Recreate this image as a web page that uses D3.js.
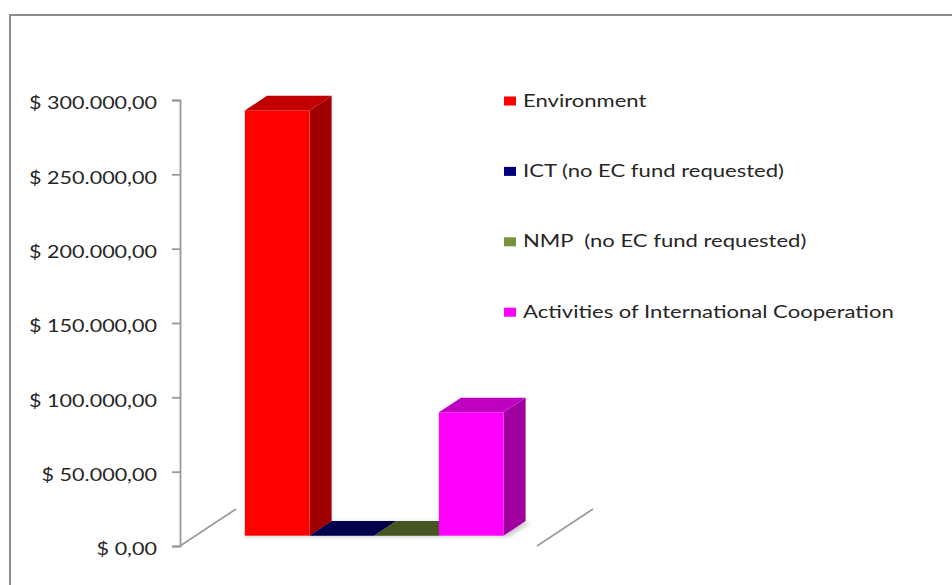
<!DOCTYPE html>
<html>
<head>
<meta charset="utf-8">
<script src="https://cdn.jsdelivr.net/npm/d3@7/dist/d3.min.js"></script>
<style>
  html, body { margin: 0; padding: 0; background: #fff; }
  text { white-space: pre; }
</style>
</head>
<body>
<svg id="chart" width="952" height="585"></svg>
<script>
// Funding per research theme (single category, one bar per theme)
const series = [
  "Environment",
  "ICT (no EC fund requested)",
  "NMP  (no EC fund requested)",
  "Activities of International Cooperation"
];
const values = [286000, 0, 0, 83000];
const colors = ["#FF0000", "#000080", "#77933C", "#FF00FF"];
const yTicks = [0, 50000, 100000, 150000, 200000, 250000, 300000];
const tickLabels = ["$ 0,00", "$ 50.000,00", "$ 100.000,00", "$ 150.000,00",
                    "$ 200.000,00", "$ 250.000,00", "$ 300.000,00"];

const FONT = "Lato, 'Open Sans', 'Liberation Sans', sans-serif";
const TEXT_COLOR = "#262626";
const AXIS_COLOR = "#9a9a9a";

const svg = d3.select("#chart");

// outer chart frame
svg.append("rect")
  .attr("x", 10).attr("y", 15)
  .attr("width", 980).attr("height", 620)
  .attr("fill", "#fff")
  .attr("stroke", "#8c8c8c")
  .attr("stroke-width", 2);

// 3D geometry: front plane of the floor plus a depth vector
const front = { x0: 180, x1: 537, y0: 546, y1: 100 };
const depth = { dx: 56, dy: -37 };
const f1 = 0.28, f2 = 0.675;   // front and back face of bars along the depth

const x = d3.scaleBand().domain(series)
  .range([front.x0, front.x1])
  .paddingInner(0).paddingOuter(0.76);
const y = d3.scaleLinear().domain([0, 300000]).range([front.y0, front.y1]);
const color = d3.scaleOrdinal().domain(series).range(colors);

// floor edges
const floor = svg.append("g")
  .attr("fill", "none").attr("stroke", AXIS_COLOR).attr("stroke-width", 1.6);
[front.x0, front.x1].forEach(px => {
  floor.append("line")
    .attr("x1", px).attr("y1", y(0))
    .attr("x2", px + depth.dx).attr("y2", y(0) + depth.dy);
});

// value axis
const axis = d3.axisLeft(y)
  .tickValues(yTicks)
  .tickSize(8).tickSizeOuter(8)
  .tickPadding(15)
  .tickFormat((d, i) => tickLabels[yTicks.indexOf(d)]);

const gAxis = svg.append("g")
  .attr("transform", `translate(${front.x0},0)`)
  .call(axis);
gAxis.select(".domain").attr("stroke", AXIS_COLOR).attr("stroke-width", 1.8);
gAxis.selectAll(".tick line").attr("stroke", AXIS_COLOR).attr("stroke-width", 1.8);

const axisText = gAxis.selectAll(".tick text")
  .attr("font-family", FONT).attr("font-size", 18)
  .attr("fill", TEXT_COLOR)
  .attr("dy", null).attr("x", 0)
  .attr("text-anchor", "end");
// horizontal stretch so the widest label spans 128px
let axisMax = 0;
axisText.each(function () { axisMax = Math.max(axisMax, this.getComputedTextLength()); });
const axisSx = 128 / axisMax;
axisText.attr("transform", `translate(-23,8.7) scale(${axisSx},1)`);

// bars
const ddx = (f2 - f1) * depth.dx, ddy = (f2 - f1) * depth.dy;
const barData = series.map((s, i) => ({ s, v: values[i] }));

// soft floor shadow under the row of bars
const defs = svg.append("defs");
defs.append("filter").attr("id", "soft")
  .attr("x", "-20%").attr("y", "-50%").attr("width", "140%").attr("height", "200%")
  .append("feGaussianBlur").attr("stdDeviation", 2);
{
  const l = x(series[0]) + f1 * depth.dx - 3;
  const r = x(series[series.length - 1]) + x.bandwidth() + f1 * depth.dx + 5;
  const b = y(0) + f1 * depth.dy + 1;
  svg.append("polygon")
    .attr("points", [[l, b], [l + ddx, b + ddy], [r + ddx, b + ddy], [r, b]].map(p => p.join(",")).join(" "))
    .attr("fill", "#9a9a9a").attr("opacity", 0.55)
    .attr("filter", "url(#soft)");
}

const bars = svg.append("g").selectAll("g").data(barData).join("g");
bars.each(function (d) {
  const g = d3.select(this);
  const w = x.bandwidth();
  const X0 = x(d.s) + f1 * depth.dx;
  const Yb = y(0) + f1 * depth.dy;
  const Yt = y(d.v) + f1 * depth.dy;
  const base = d3.color(color(d.s));
  const pts = a => a.map(p => p.join(",")).join(" ");
  // right side face
  g.append("polygon")
    .attr("points", pts([[X0 + w, Yb], [X0 + w + ddx, Yb + ddy], [X0 + w + ddx, Yt + ddy], [X0 + w, Yt]]))
    .attr("fill", base.darker(1.3));
  // front face
  g.append("rect")
    .attr("x", X0).attr("y", Yt)
    .attr("width", w).attr("height", Yb - Yt)
    .attr("fill", base);
  // top face
  g.append("polygon")
    .attr("points", pts([[X0, Yt], [X0 + ddx, Yt + ddy], [X0 + w + ddx, Yt + ddy], [X0 + w, Yt]]))
    .attr("fill", d.v === 0 ? base.darker(1.5) : base.darker(0.8));
});

// legend
const legend = svg.append("g").attr("transform", "translate(504,0)");
const rows = legend.selectAll("g").data(series).join("g")
  .attr("transform", (d, i) => `translate(0,${101 + i * 70.4})`);
rows.append("rect")
  .attr("x", 0).attr("y", -4.5)
  .attr("width", 12).attr("height", 9)
  .attr("fill", d => color(d));
const legText = rows.append("text")
  .attr("font-family", FONT).attr("font-size", 18)
  .attr("fill", TEXT_COLOR)
  .text(d => d);
let legMax = 0;
legText.each(function () { legMax = Math.max(legMax, this.getComputedTextLength()); });
const legSx = 371 / legMax;
legText.attr("transform", `translate(19,5.5) scale(${legSx},1)`);
</script>
</body>
</html>
